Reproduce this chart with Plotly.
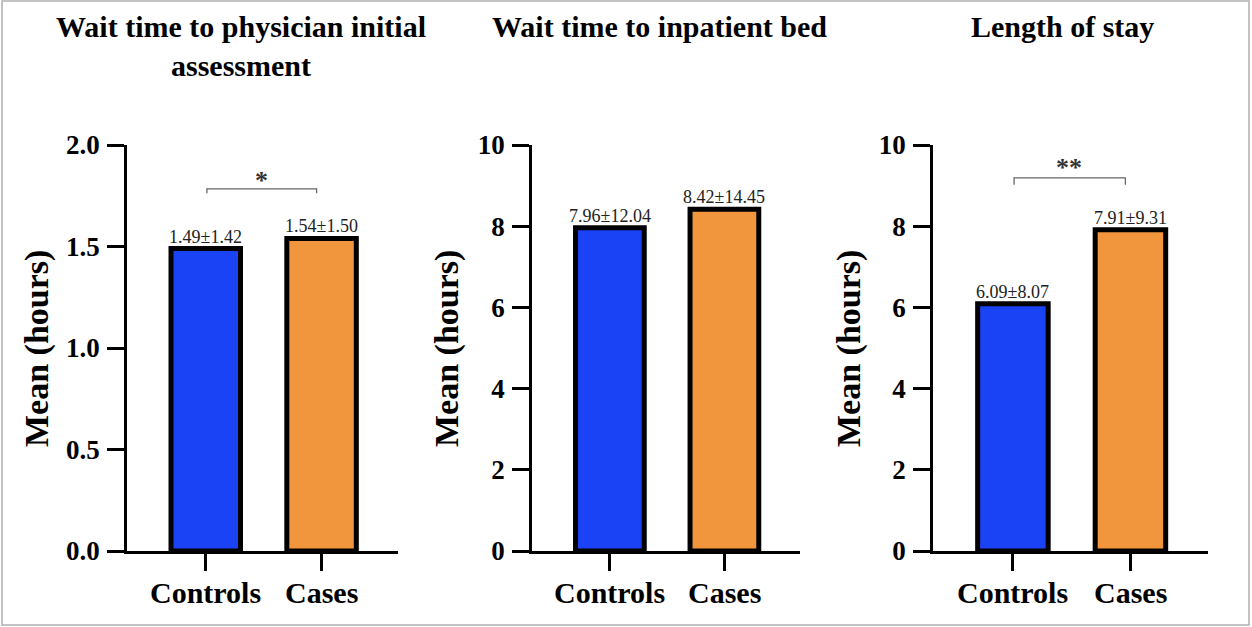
import plotly.graph_objects as go

# ---------------- data ----------------
categories = ["Controls", "Cases"]
panel_titles = ["Wait time to physician initial<br>assessment",
                "Wait time to inpatient bed",
                "Length of stay"]
means_physician = [1.49, 1.54]
sd_physician = [1.42, 1.50]
means_bed = [7.96, 8.42]
sd_bed = [12.04, 14.45]
means_los = [6.09, 7.91]
sd_los = [8.07, 9.31]
y_max = [2.0, 10, 10]
y_ticks_physician = [0.0, 0.5, 1.0, 1.5, 2.0]
y_ticks_hours = [0, 2, 4, 6, 8, 10]
significance = ["*", "", "**"]
y_title = "Mean (hours)"

# ---------------- styling ----------------
W, H = 1252, 627
bar_colors = ["#1a43f5", "#f2963e"]
SERIF = "Liberation Serif, Times New Roman, serif"

def px_x(p):
    return p / W

def px_y(p):
    return 1 - p / H

x_domains_px = [(127, 398), (532, 800), (933, 1208)]
y_domain = [px_y(551), px_y(145)]
x_range = [-0.68, 1.66]
title_x_px = [241, 659, 1062]
ytitle_x_px = [37, 447, 849]
bracket_px = [(1.784, 1.762, 1.79), None, (9.19, 9.02, 9.25)]

means_all = [means_physician, means_bed, means_los]
sds_all = [sd_physician, sd_bed, sd_los]
ticks_all = [y_ticks_physician, y_ticks_hours, y_ticks_hours]
tickfmt = [".1f", "d", "d"]

fig = go.Figure()
annotations = []
shapes = []

for i in range(3):
    xa = "x" if i == 0 else f"x{i+1}"
    ya = "y" if i == 0 else f"y{i+1}"
    fig.add_trace(go.Bar(
        x=categories, y=means_all[i], xaxis=xa, yaxis=ya,
        width=0.6,
        marker=dict(color=bar_colors, line=dict(color="black", width=5)),
        showlegend=False, hoverinfo="skip"))

    axis_common = dict(showline=True, linecolor="black", linewidth=2.5,
                       ticks="outside", ticklen=17, tickwidth=2.5, tickcolor="black",
                       showgrid=False, zeroline=False, automargin=False)
    xkey = "xaxis" if i == 0 else f"xaxis{i+1}"
    ykey = "yaxis" if i == 0 else f"yaxis{i+1}"
    d0, d1 = x_domains_px[i]
    fig.update_layout(**{
        xkey: dict(domain=[px_x(d0), px_x(d1)], anchor=ya, range=x_range,
                   type="category", showticklabels=False,
                   **axis_common),
        ykey: dict(domain=y_domain, anchor=xa, range=[0, y_max[i]],
                   tickvals=ticks_all[i], tickformat=tickfmt[i],
                   ticklabelstandoff=2,
                   tickfont=dict(family=SERIF, size=27, color="black", weight="bold"),
                   **axis_common),
    })

    # category labels
    for c in categories:
        annotations.append(dict(
            x=c, y=px_y(592), xref=xa, yref="paper", text=c,
            showarrow=False, xanchor="center", yanchor="middle",
            font=dict(family=SERIF, size=30, color="black", weight="bold")))

    # value labels
    for c, m, s in zip(categories, means_all[i], sds_all[i]):
        annotations.append(dict(
            x=c, y=m, xref=xa, yref=ya, text=f"{m:.2f}±{s:.2f}",
            showarrow=False, yanchor="bottom", yshift=0,
            font=dict(family=SERIF, size=18, color="#222222")))

    # panel title
    annotations.append(dict(
        x=px_x(title_x_px[i]), y=px_y(8), xref="paper", yref="paper",
        text=panel_titles[i], showarrow=False, xanchor="center", yanchor="top",
        font=dict(family=SERIF, size=30, color="black", weight="bold")))

    # y axis title
    annotations.append(dict(
        x=px_x(ytitle_x_px[i]), y=px_y(349), xref="paper", yref="paper",
        text=y_title, textangle=-90, showarrow=False,
        xanchor="center", yanchor="middle",
        font=dict(family=SERIF, size=34, color="black", weight="bold")))

    # significance bracket
    if significance[i]:
        yb, yd, ys = bracket_px[i]
        shapes.append(dict(
            type="path", xref=xa, yref=ya,
            path=f"M 0.01,{yd} L 0.01,{yb} L 0.957,{yb} L 0.957,{yd}",
            line=dict(color="#666666", width=1.3)))
        annotations.append(dict(
            x=0.48, y=ys, xref=xa, yref=ya, text=significance[i],
            showarrow=False, yanchor="bottom", yshift=-9,
            font=dict(family=SERIF, size=26, color="#333333", weight="bold")))

# outer border
shapes.append(dict(type="rect", xref="paper", yref="paper",
                   x0=px_x(2), x1=px_x(1249), y0=px_y(625), y1=px_y(1),
                   line=dict(color="#b0b0b0", width=1.5)))

fig.update_layout(
    width=W, height=H,
    margin=dict(l=0, r=0, t=0, b=0, pad=0, autoexpand=False),
    paper_bgcolor="white", plot_bgcolor="white",
    annotations=annotations, shapes=shapes)

fig.write_html("out.html")
